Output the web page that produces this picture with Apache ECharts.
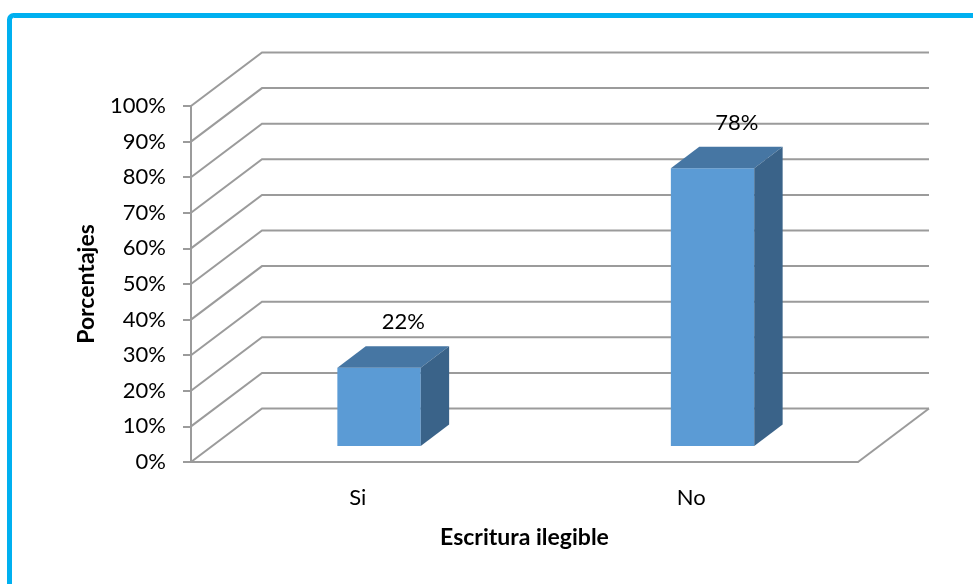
<!DOCTYPE html>
<html>
<head>
<meta charset="utf-8">
<title>Escritura ilegible</title>
<script src="https://cdn.jsdelivr.net/npm/echarts@6/dist/echarts.min.js"></script>
<style>
  html, body { margin: 0; padding: 0; background: #ffffff; }
  #chart { width: 973px; height: 584px; }
</style>
</head>
<body>
<div id="chart"></div>
<script>
// Categories and their shares (fractions of 1)
const categories = ['Si', 'No'];
const percentValues = [0.22, 0.78];

// Levels of the percentage scale (also drawn on the back wall and side wall)
const gridLevels = [0, 0.1, 0.2, 0.3, 0.4, 0.5, 0.6, 0.7, 0.8, 0.9, 1.0];

const axisTitleY = 'Porcentajes';
const axisTitleX = 'Escritura ilegible';

// Oblique "3D" depth of the plot box, in pixels
const DEPTH_X = 71;
const DEPTH_Y = 53.5;
const GRID_COLOR = '#9b9b9b';
const FONT = 'Lato, "Open Sans", sans-serif';

const pct = v => Math.round(v * 100) + '%';

const chart = echarts.init(document.getElementById('chart'), null, { renderer: 'canvas' });

// Back wall, side wall and floor edge
function renderWalls(params, api) {
  const cs = params.coordSys;
  const v = api.value(1);
  const yf = api.coord([0, v])[1];
  const x0 = cs.x, x1 = cs.x + cs.width;
  const children = [{
    type: 'polyline',
    shape: { points: [[x0, yf], [x0 + DEPTH_X, yf - DEPTH_Y], [x1 + DEPTH_X, yf - DEPTH_Y]] },
    style: { stroke: GRID_COLOR, lineWidth: 2, fill: null }
  }];
  if (v === 0) {
    children.push({
      type: 'line',
      shape: { x1: x1, y1: yf, x2: x1 + DEPTH_X, y2: yf - DEPTH_Y },
      style: { stroke: GRID_COLOR, lineWidth: 2 }
    });
  }
  return { type: 'group', children: children };
}

// Prism bars placed in the middle of the depth
function renderBar(params, api) {
  const idx = api.value(0);
  const val = api.value(1);
  const base = api.coord([idx, 0]);
  const top = api.coord([idx, val]);
  const band = api.size([1, 0])[0];
  const w = band * 0.25;
  const fx = base[0] - w / 2 + DEPTH_X * 0.3;
  const fy0 = base[1] - DEPTH_Y * 0.3;
  const fy1 = top[1] - DEPTH_Y * 0.3;
  const bx = DEPTH_X * 0.4, by = DEPTH_Y * 0.4;
  return {
    type: 'group',
    children: [
      {
        type: 'rect',
        shape: { x: fx, y: fy1, width: w, height: fy0 - fy1 },
        style: { fill: '#5b9bd5' }
      },
      {
        type: 'polygon',
        shape: { points: [[fx, fy1], [fx + w, fy1], [fx + w + bx, fy1 - by], [fx + bx, fy1 - by]] },
        style: { fill: '#4676a3' }
      },
      {
        type: 'polygon',
        shape: { points: [[fx + w, fy1], [fx + w + bx, fy1 - by], [fx + w + bx, fy0 - by], [fx + w, fy0]] },
        style: { fill: '#3a6389' }
      },
      {
        type: 'text',
        style: {
          x: fx + w / 2 + bx / 2 + 10,
          y: fy1 - by / 2 - 35,
          text: pct(val),
          fill: '#000000',
          font: '22px ' + FONT,
          align: 'center',
          verticalAlign: 'middle'
        }
      }
    ]
  };
}

const option = {
  backgroundColor: '#ffffff',
  animation: false,
  grid: { left: 191, right: 115, top: 106, bottom: 122, containLabel: false },
  xAxis: {
    type: 'category',
    data: categories,
    boundaryGap: true,
    axisLine: { show: true, lineStyle: { color: GRID_COLOR, width: 2 } },
    axisTick: { show: false },
    axisLabel: { color: '#000000', fontFamily: FONT, fontSize: 22, margin: 25 },
    splitLine: { show: false },
    name: axisTitleX,
    nameLocation: 'middle',
    nameGap: 64,
    nameTextStyle: { color: '#000000', fontFamily: FONT, fontSize: 23, fontWeight: 'bold' }
  },
  yAxis: {
    type: 'value',
    min: 0,
    max: 1,
    interval: 0.1,
    axisLine: { show: true, lineStyle: { color: GRID_COLOR, width: 2 } },
    axisTick: { show: true, inside: false, length: 8, lineStyle: { color: GRID_COLOR, width: 2 } },
    axisLabel: { color: '#000000', fontFamily: FONT, fontSize: 22, margin: 25, formatter: pct },
    splitLine: { show: false },
    name: axisTitleY,
    nameLocation: 'middle',
    nameRotate: 90,
    nameGap: 93,
    nameTextStyle: { color: '#000000', fontFamily: FONT, fontSize: 23, fontWeight: 'bold' }
  },
  graphic: [{
    type: 'rect',
    z: 100,
    silent: true,
    shape: { x: 9.5, y: 15.5, width: 1000, height: 700, r: 4 },
    style: { fill: null, stroke: '#00b0f0', lineWidth: 5 }
  }],
  series: [
    {
      type: 'custom',
      name: 'walls',
      z: 1,
      silent: true,
      renderItem: renderWalls,
      data: gridLevels.map(v => [0, v])
    },
    {
      type: 'custom',
      name: 'bars',
      z: 2,
      renderItem: renderBar,
      data: percentValues.map((v, i) => [i, v])
    }
  ]
};

chart.setOption(option);
</script>
</body>
</html>
